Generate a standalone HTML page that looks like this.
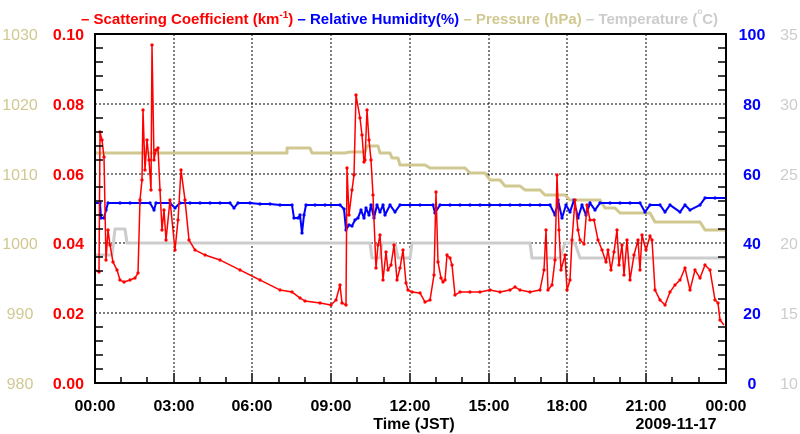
<!DOCTYPE html><html><head><style>body{margin:0;background:#fff}svg{display:block;font-family:"Liberation Sans",sans-serif;font-weight:bold}</style></head><body>
<svg width="800" height="434" viewBox="0 0 800 434">
<defs><clipPath id="c"><rect x="95" y="34" width="631" height="349"/></clipPath>
<marker id="mr" markerWidth="4" markerHeight="4" refX="2" refY="2" markerUnits="userSpaceOnUse"><circle cx="2" cy="2" r="1.6" fill="#ff0000"/></marker>
<marker id="mb" markerWidth="4" markerHeight="4" refX="2" refY="2" markerUnits="userSpaceOnUse"><circle cx="2" cy="2" r="1.6" fill="#0000ff"/></marker>
</defs>
<g stroke="#000" stroke-dasharray="2,2" stroke-width="1">
<line x1="174" y1="34" x2="174" y2="383"/><line x1="252" y1="34" x2="252" y2="383"/><line x1="331" y1="34" x2="331" y2="383"/><line x1="410" y1="34" x2="410" y2="383"/><line x1="489" y1="34" x2="489" y2="383"/><line x1="567" y1="34" x2="567" y2="383"/><line x1="646" y1="34" x2="646" y2="383"/>
<line x1="95" y1="104" x2="726" y2="104"/><line x1="95" y1="174" x2="726" y2="174"/><line x1="95" y1="243" x2="726" y2="243"/><line x1="95" y1="313" x2="726" y2="313"/>
</g>
<g clip-path="url(#c)" fill="none" stroke-linejoin="round">
<polyline stroke="#d0c890" stroke-width="3" points="96,153 280,153 287,153 287,148 310,148 312,153 345,153 350,152 365,152 367,146 378,146 380,153 390,153 392,158 398,158 400,165 415,165 425,165 430,168 450,168 465,168 470,173 485,173 490,180 500,180 505,186 520,186 525,190 540,190 545,195 565,195 570,200 600,200 605,208 615,208 620,213 650,213 655,222 700,222 705,230 726,230"/>
<polyline stroke="#cccccc" stroke-width="3" points="96,255 112,255 115,229 125,229 127,243 370,243 372,258 380,258 382,243 395,243 398,258 410,258 412,243 530,243 532,258 560,258 565,243 575,243 580,258 726,258"/>
<polyline stroke="#0000ff" stroke-width="2" marker-mid="url(#mb)" points="96,203 100,203 101,218 104,218 106,210 108,203 120,203 130,203 140,203 150,203 154,210 156,203 170,203 175,208 180,203 190,203 200,203 210,203 220,203 230,203 234,208 238,203 250,203 260,204 270,204 280,205 292,205 294,218 298,218 300,215 302,233 304,215 306,205 315,205 325,205 340,205 344,209 346,230 349,225 352,226 355,220 358,218 361,210 364,218 366,208 369,215 371,205 374,218 377,205 380,212 383,205 385,215 390,205 395,212 400,205 410,205 420,205 433,205 435,213 440,205 450,205 460,205 470,205 480,205 490,205 500,205 510,205 520,205 530,205 540,205 550,205 555,215 558,200 562,218 566,205 570,212 574,200 578,218 582,205 586,215 590,203 595,210 600,203 610,203 620,203 630,203 640,203 645,212 650,205 660,205 665,212 670,205 680,212 685,205 690,210 700,205 705,198 715,198 726,198"/>
<g stroke="#ff0000" stroke-width="1.5"><polyline marker-mid="url(#mr)" points="96,270 99,272 100,132 102,140 104,157 106,260 108,230 110,245 113,262 117,270 120,280 124,282 130,280 135,278 138,273 140,200 142,180 143,110 145,170 147,140 149,160 151,190 152,45 154,160 156,150 158,148 160,190 162,230 164,210 166,240 170,200 175,250 178,220 181,170 185,200 189,240 195,250 205,255 220,260 240,270 260,280 280,290 292,292 300,298 305,301 320,303 331,305 336,300 340,285 342,303 346,305 347,168 349,215 352,190 354,175 356,95 360,118 362,135 364,162 365,160 367,110 369,140 371,160 373,195 376,268 378,245 380,235 383,280 386,252 388,270 391,265 394,245 397,280 400,268 403,250 406,283 408,290 412,292 420,293 425,302 430,300 434,275 436,192 438,262 441,278 443,282 445,280 447,255 450,258 452,265 455,295 460,292 470,292 480,292 490,290 500,292 510,290 515,287 520,290 530,292 540,290 544,270 546,230 548,290 552,285 555,260 557,175 559,230 561,270 565,255 567,290 570,280 572,240 575,200 578,230 580,240 584,244 587,205 590,220 594,220 598,240 602,250 606,262 608,250 611,270 614,252 617,230 619,265 622,245 624,275 627,240 630,280 634,255 638,240 640,270 642,235 646,250 650,236 652,240 655,290 660,300 665,305 670,292 675,285 680,280 685,268 690,290 695,270 700,278 705,265 710,270 715,300 718,303 720,320 724,325"/></g>
</g>
<g stroke="#000" stroke-width="2" fill="none"><rect x="95" y="34" width="631" height="349"/></g>
<g stroke="#000" stroke-width="1.5">
<path d="M95,369h8M95,355h8M95,341h8M95,327h8M95,299h8M95,285h8M95,271h8M95,257h8M95,229h8M95,215h8M95,201h8M95,187h8M95,160h8M95,146h8M95,132h8M95,118h8M95,90h8M95,76h8M95,62h8M95,48h8"/>
<path d="M726,369h-8M726,355h-8M726,341h-8M726,327h-8M726,299h-8M726,285h-8M726,271h-8M726,257h-8M726,229h-8M726,215h-8M726,201h-8M726,187h-8M726,160h-8M726,146h-8M726,132h-8M726,118h-8M726,90h-8M726,76h-8M726,62h-8M726,48h-8"/>
<path d="M121,383v-6M147,383v-6M200,383v-6M226,383v-6M279,383v-6M305,383v-6M357,383v-6M384,383v-6M436,383v-6M462,383v-6M515,383v-6M541,383v-6M594,383v-6M620,383v-6M672,383v-6M699,383v-6M174,383v-10M252,383v-10M331,383v-10M410,383v-10M489,383v-10M567,383v-10M646,383v-10"/>
</g>
<g font-size="16" fill="#ff0000" text-anchor="end"><text x="84" y="40">0.10</text><text x="84" y="110">0.08</text><text x="84" y="180">0.06</text><text x="84" y="249">0.04</text><text x="84" y="319">0.02</text><text x="84" y="389">0.00</text></g>
<g font-size="16" fill="#d0c890" font-weight="normal" text-anchor="middle"><text x="20" y="40">1030</text><text x="20" y="110">1020</text><text x="20" y="180">1010</text><text x="20" y="249">1000</text><text x="20" y="319">990</text><text x="20" y="389">980</text></g>
<g font-size="16" fill="#0000ff" text-anchor="middle"><text x="752" y="40">100</text><text x="752" y="110">80</text><text x="752" y="180">60</text><text x="752" y="249">40</text><text x="752" y="319">20</text><text x="752" y="389">0</text></g>
<g font-size="16" fill="#cccccc" font-weight="normal" text-anchor="middle"><text x="789" y="40">35</text><text x="789" y="110">30</text><text x="789" y="180">25</text><text x="789" y="249">20</text><text x="789" y="319">15</text><text x="789" y="389">10</text></g>
<g font-size="16" fill="#000" text-anchor="middle"><text x="95" y="411">00:00</text><text x="174" y="411">03:00</text><text x="252" y="411">06:00</text><text x="331" y="411">09:00</text><text x="410" y="411">12:00</text><text x="489" y="411">15:00</text><text x="567" y="411">18:00</text><text x="646" y="411">21:00</text><text x="726" y="411">00:00</text><text x="414" y="429">Time (JST)</text><text x="676" y="429">2009-11-17</text></g>
<text y="24" font-size="15"><tspan x="81" fill="#ff0000">– Scattering Coefficient (km</tspan><tspan fill="#ff0000" font-size="10" dy="-6">-1</tspan><tspan fill="#ff0000" dy="6">)</tspan><tspan fill="#0000ff"> – Relative Humidity(%)</tspan><tspan fill="#d0c890"> – Pressure (hPa)</tspan><tspan fill="#cccccc"> – Temperature (</tspan><tspan fill="#cccccc" font-size="8" dy="-10">o</tspan><tspan fill="#cccccc" dy="10">C)</tspan></text>
</svg></body></html>
